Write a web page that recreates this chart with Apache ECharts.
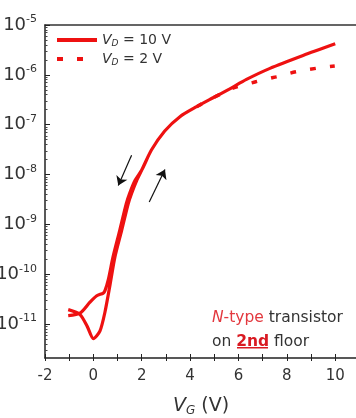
<!DOCTYPE html>
<html>
<head>
<meta charset="utf-8">
<script src="https://cdn.jsdelivr.net/npm/echarts@6/dist/echarts.min.js"></script>
<style>
  html, body { margin: 0; padding: 0; background: #fff; }
  #chart { width: 356px; height: 418px; }
</style>
</head>
<body>
<div id="chart"></div>
<script>
// Transfer characteristics: drain current (A) against gate voltage (V)
// V_D = 10 V, forward sweep
const vgUp10 = [-1.04, -0.55, -0.25, 0.0, 0.27, 0.48, 0.69, 0.89, 1.17, 1.44, 1.58, 1.79, 2.0, 2.4, 2.95, 3.58, 4.27, 4.95, 5.64, 6.33, 7.3, 8.67, 10.0];
const idUp10 = [1.95e-11, 1.55e-11, 8.9e-12, 5.1e-12, 7.2e-12, 1.75e-11, 6.2e-11, 2.2e-10, 7.6e-10, 2.6e-9, 4.2e-9, 7.6e-9, 1.23e-8, 3.1e-8, 7.5e-8, 1.45e-7, 2.3e-7, 3.47e-7, 5.25e-7, 8.1e-7, 1.35e-6, 2.45e-6, 4.2e-6];
// V_D = 10 V, reverse sweep
const vgDown10 = [10.0, 8.67, 7.3, 6.33, 5.64, 4.95, 4.27, 3.58, 2.95, 2.4, 2.0, 1.72, 1.5, 1.36, 1.09, 0.81, 0.62, 0.48, 0.41, 0.14, -0.14, -0.55, -1.04];
const idDown10 = [4.2e-6, 2.45e-6, 1.35e-6, 8.1e-7, 5.25e-7, 3.47e-7, 2.3e-7, 1.45e-7, 7.5e-8, 3.1e-8, 1.23e-8, 7.6e-9, 4.2e-9, 2.6e-9, 7.6e-10, 2.2e-10, 7.9e-11, 4.7e-11, 4.2e-11, 3.7e-11, 2.75e-11, 1.66e-11, 1.48e-11];
// V_D = 2 V
const vg2 = [4.27, 4.95, 5.3, 5.77, 6.68, 7.55, 8.37, 9.2, 9.98];
const id2 = [2.3e-7, 3.47e-7, 4.2e-7, 5.4e-7, 7.2e-7, 9.1e-7, 1.15e-6, 1.35e-6, 1.5e-6];

// Sweep-direction arrows: [start, end] in (V, A)
const arrowDown = [[1.58, 2.45e-8], [1.03, 6.0e-9]];
const arrowUp = [[2.31, 2.8e-9], [2.96, 1.26e-8]];

// Axes
const xTickValues = [-2, -1, 0, 1, 2, 3, 4, 5, 6, 7, 8, 9, 10];
const xLabelValues = [-2, 0, 2, 4, 6, 8, 10];
const yDecades = [-11, -10, -9, -8, -7, -6, -5];
const X_MIN = -2, X_MAX = 10.9;
const Y_MIN = -11.68, Y_MAX = -5;

const RED = '#ee1111';
const lg = v => Math.log10(v);
const toPoints = (xs, ys) => xs.map((x, i) => [x, lg(ys[i])]);

const yMinor = [];
for (let n = -12; n <= -6; n++) {
  for (let k = 2; k <= 9; k++) {
    const v = n + Math.log10(k);
    if (v > Y_MIN && v < Y_MAX) yMinor.push(v);
  }
}

const FONT = 'DejaVu Sans';
const sweep10 = toPoints(vgUp10, idUp10).concat(toPoints(vgDown10, idDown10));

const chart = echarts.init(document.getElementById('chart'), null, { renderer: 'canvas' });
chart.setOption({
  animation: false,
  backgroundColor: '#fff',
  textStyle: { fontFamily: FONT },
  grid: { left: 45, top: 25, right: -1, bottom: 60, containLabel: false, outerBoundsMode: 'none' },
  legend: {
    orient: 'vertical',
    left: 55,
    top: 33,
    padding: 0,
    itemWidth: 40,
    itemHeight: 14,
    itemGap: 4,
    itemStyle: { opacity: 0 },
    lineStyle: { width: 4 },
    data: ['VD10', 'VD2'],
    formatter: n => n === 'VD10' ? '{i|V}{s|D}{t| = 10 V}' : '{i|V}{s|D}{t| = 2 V}',
    textStyle: {
      fontFamily: FONT,
      color: '#333',
      rich: {
        i: { fontSize: 14, fontStyle: 'italic', color: '#333', lineHeight: 16 },
        s: { fontSize: 9, fontStyle: 'italic', color: '#333', verticalAlign: 'bottom', lineHeight: 12 },
        t: { fontSize: 14, color: '#333', lineHeight: 16 }
      }
    }
  },
  xAxis: [
    {
      type: 'value', min: X_MIN, max: X_MAX, position: 'bottom',
      axisLine: { onZero: false, lineStyle: { color: '#222', width: 1.5 } },
      axisTick: { inside: true, length: 4, customValues: xTickValues, lineStyle: { color: '#222' } },
      axisLabel: { customValues: xLabelValues, fontSize: 15, color: '#333', margin: 11, fontFamily: FONT },
      splitLine: { show: false },
      name: '{i|V}{s|G}{t| (V)}',
      nameLocation: 'middle',
      nameGap: 37,
      nameTextStyle: {
        fontFamily: FONT,
        rich: {
          i: { fontSize: 19, fontStyle: 'italic', color: '#333', lineHeight: 22 },
          s: { fontSize: 12, fontStyle: 'italic', color: '#333', verticalAlign: 'bottom', lineHeight: 14 },
          t: { fontSize: 19, color: '#333', lineHeight: 22 }
        }
      }
    },
    {
      type: 'value', min: X_MIN, max: X_MAX, position: 'bottom',
      axisLine: { show: false, onZero: false },
      axisTick: { inside: false, length: 3, customValues: xTickValues, lineStyle: { color: '#222' } },
      axisLabel: { show: false },
      splitLine: { show: false }
    },
    {
      type: 'value', min: X_MIN, max: X_MAX, position: 'top',
      axisLine: { onZero: false, lineStyle: { color: '#333', width: 1.5 } },
      axisTick: { show: false },
      axisLabel: { show: false },
      splitLine: { show: false }
    }
  ],
  yAxis: [
    {
      type: 'value', min: Y_MIN, max: Y_MAX, position: 'left',
      axisLine: { onZero: false, lineStyle: { color: '#222', width: 1.5 } },
      axisTick: { inside: true, length: 5, customValues: yDecades, lineStyle: { color: '#222' } },
      axisLabel: {
        customValues: yDecades,
        margin: 8,
        formatter: v => '{b|10}{e|' + Math.round(v) + '}',
        rich: {
          b: { fontSize: 18, color: '#333', fontFamily: FONT, lineHeight: 22 },
          e: { fontSize: 11, color: '#333', fontFamily: FONT, verticalAlign: 'top', lineHeight: 12 }
        }
      },
      splitLine: { show: false }
    },
    {
      type: 'value', min: Y_MIN, max: Y_MAX, position: 'left',
      axisLine: { show: false, onZero: false },
      axisTick: { inside: true, length: 2.5, customValues: yMinor, lineStyle: { color: '#444' } },
      axisLabel: { show: false },
      splitLine: { show: false }
    }
  ],
  series: [
    {
      name: 'VD10', type: 'line', xAxisIndex: 0, yAxisIndex: 0,
      data: sweep10, symbol: 'none', smooth: 0.25,
      lineStyle: { color: RED, width: 3.2 },
      itemStyle: { color: RED },
      z: 3
    },
    {
      name: 'VD2', type: 'line', xAxisIndex: 0, yAxisIndex: 0,
      data: toPoints(vg2, id2), symbol: 'none', smooth: 0.3,
      lineStyle: { color: RED, width: 3.5, type: [6, 14] },
      itemStyle: { color: RED },
      z: 2
    },
    {
      type: 'lines', coordinateSystem: 'cartesian2d', xAxisIndex: 0, yAxisIndex: 0,
      symbol: ['none', 'arrow'], symbolSize: [7, 9],
      lineStyle: { color: '#111', width: 1.2, opacity: 1 },
      data: [arrowDown, arrowUp].map(a => ({ coords: a.map(p => [p[0], lg(p[1])]) })),
      z: 4
    }
  ],
  graphic: [
    {
      type: 'text', left: 212, top: 306,
      style: {
        text: '{n|N}{r|-type} transistor\non {u|2nd} floor',
        fontFamily: FONT, fontSize: 15.5, fill: '#333', lineHeight: 24,
        rich: {
          n: { fontFamily: FONT, fontSize: 15.5, fontStyle: 'italic', fill: '#e3393f', lineHeight: 24 },
          r: { fontFamily: FONT, fontSize: 15.5, fill: '#e3393f', lineHeight: 24 },
          u: { fontFamily: FONT, fontSize: 15.5, fontWeight: 'bold', fill: '#d91a22', lineHeight: 24 }
        }
      }
    },
    {
      type: 'rect', left: 237, top: 347,
      shape: { width: 31, height: 1.5 },
      style: { fill: '#d91a22' }
    }
  ]
});
</script>
</body>
</html>
